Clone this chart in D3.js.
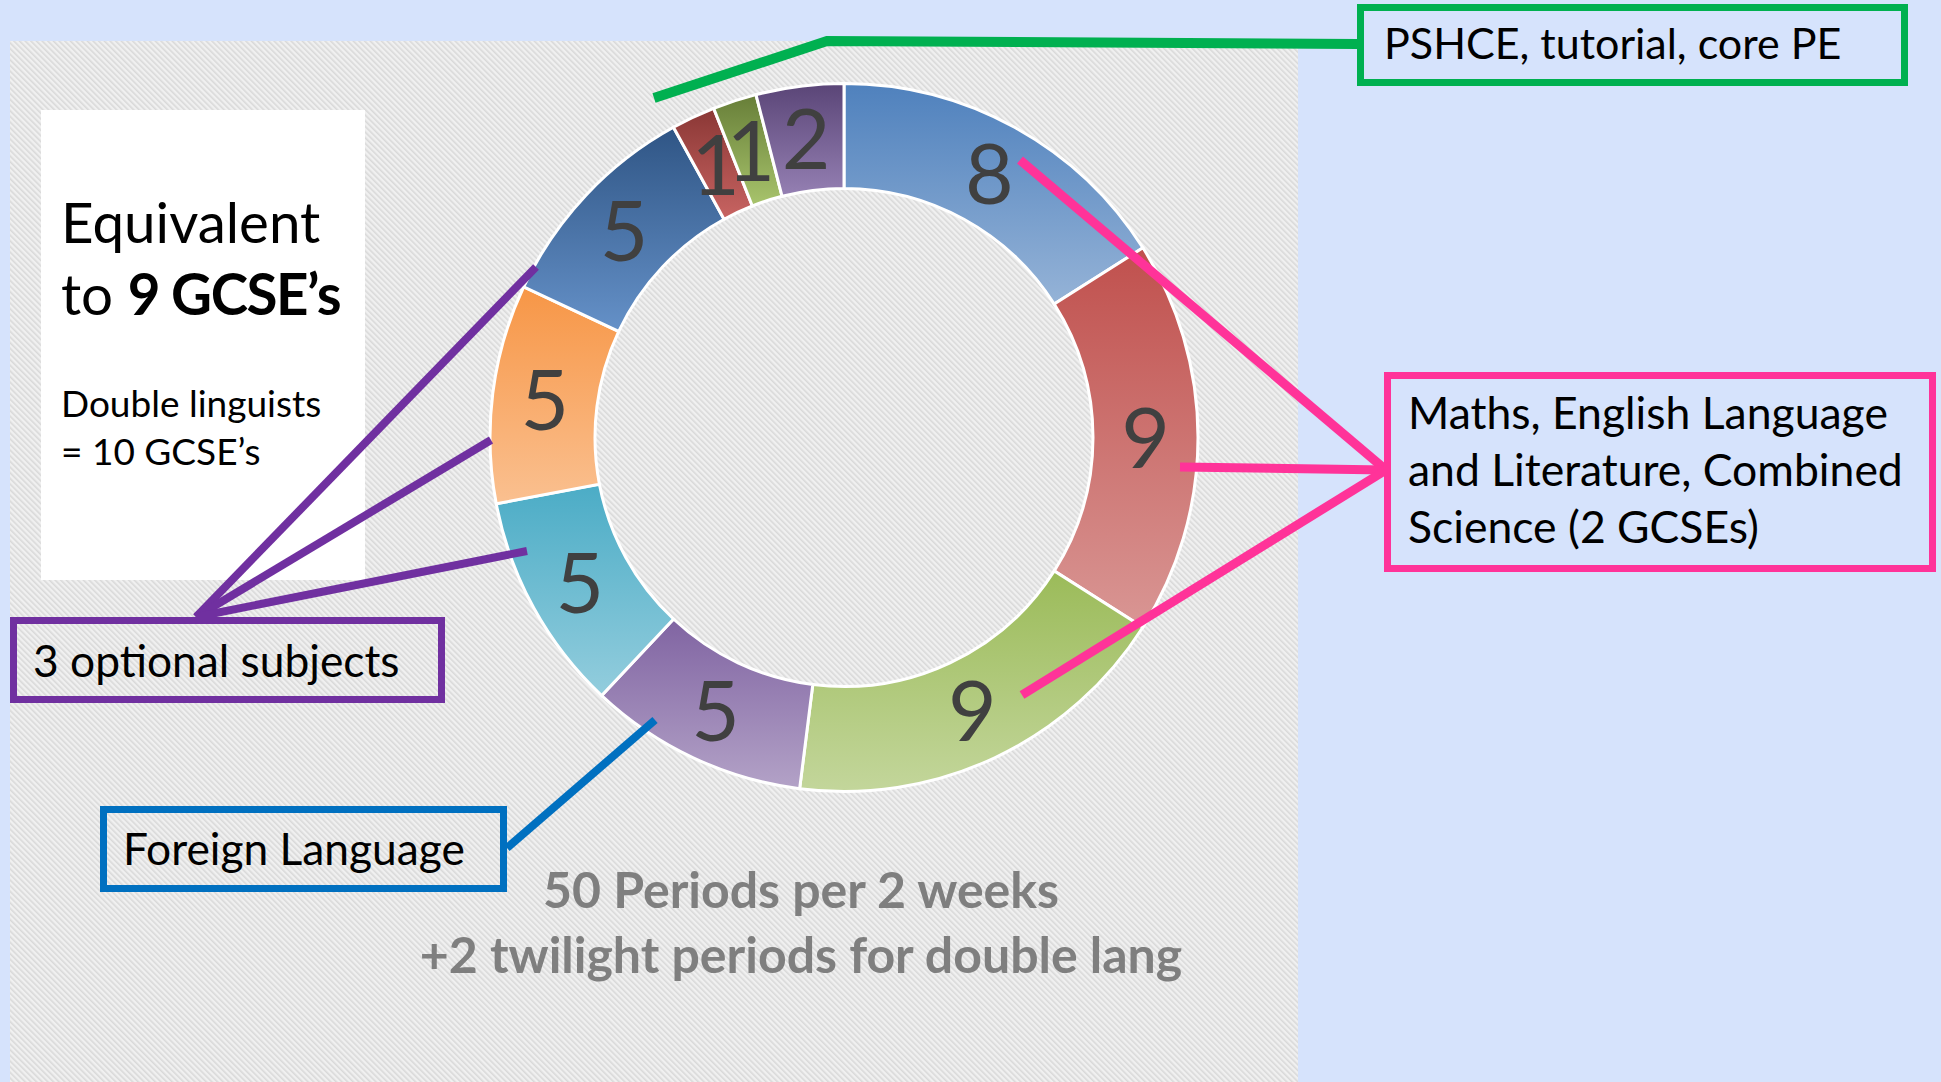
<!DOCTYPE html>
<html>
<head>
<meta charset="utf-8">
<style>
  body { margin: 0; background: #d6e3fc; }
  svg { display: block; }
  text { font-family: Lato, "Open Sans", sans-serif; }
</style>
</head>
<body>
<svg width="1941" height="1082"></svg>
<script src="https://d3js.org/d3.v7.min.js"></script>
<script>
// periods per fortnight, clockwise from 12 o'clock
var periods = [8, 9, 9, 5, 5, 5, 5, 1, 1, 2];
var topColors    = ["#4f81bd", "#c0504d", "#9bbb59", "#8064a2", "#4bacc6", "#f79646", "#2f5585", "#8a3735", "#677e38", "#5a4577"];
var bottomColors = ["#95b3d7", "#d99694", "#c3d69b", "#b3a2c7", "#93cddd", "#fac090", "#6591c8", "#c86462", "#a8c46c", "#9580b3"];

var titleLines = ["Equivalent", "to ", "9 GCSE\u2019s"];
var noteLines = ["Double linguists", "= 10 GCSE\u2019s"];
var footerLines = ["50 Periods per 2 weeks", "+2 twilight periods for double lang"];
var coreText = ["Maths, English Language", "and Literature, Combined", "Science (2 GCSEs)"];

var svg = d3.select("svg"),
    width = +svg.attr("width"),
    height = +svg.attr("height");

var defs = svg.append("defs");

// diagonal hatch of the plot panel
var hatch = defs.append("pattern")
    .attr("id", "hatch")
    .attr("patternUnits", "userSpaceOnUse")
    .attr("width", 4).attr("height", 4)
    .attr("patternTransform", "rotate(-45)");
hatch.append("rect").attr("width", 4).attr("height", 4).attr("fill", "#f0f0f0");
hatch.append("rect").attr("width", 1.6).attr("height", 4).attr("fill", "#d9d9d9");

svg.append("rect")
    .attr("x", 10).attr("y", 41)
    .attr("width", 1288).attr("height", height - 41)
    .attr("fill", "url(#hatch)");

// white text panel
svg.append("rect")
    .attr("x", 41).attr("y", 110)
    .attr("width", 324).attr("height", 470)
    .attr("fill", "#ffffff");

var t1 = svg.append("text").attr("x", 61).attr("y", 243).attr("font-size", 56.5).attr("fill", "#000");
t1.text(titleLines[0]);
var t2 = svg.append("text").attr("x", 61).attr("y", 315).attr("font-size", 56.5).attr("fill", "#000");
t2.append("tspan").text(titleLines[1]);
t2.append("tspan").attr("font-weight", "bold").attr("letter-spacing", -1.5).text(titleLines[2]);

svg.selectAll(".note")
  .data(noteLines)
  .enter().append("text")
    .attr("class", "note")
    .attr("x", 61)
    .attr("y", function(d, i) { return 417 + i * 48; })
    .attr("font-size", 37)
    .attr("fill", "#000")
    .text(function(d) { return d; });

// gradients, one per slice
var grads = defs.selectAll("linearGradient")
  .data(periods)
  .enter().append("linearGradient")
    .attr("id", function(d, i) { return "g" + i; })
    .attr("x1", 0).attr("y1", 0).attr("x2", 0).attr("y2", 1);
grads.append("stop").attr("offset", 0).attr("stop-color", function(d, i) { return topColors[i]; });
grads.append("stop").attr("offset", 1).attr("stop-color", function(d, i) { return bottomColors[i]; });

var cx = 844, cy = 437.5;
var pie = d3.pie().sort(null).value(function(d) { return d; });
var arc = d3.arc().innerRadius(249).outerRadius(354);

var donut = svg.append("g").attr("transform", "translate(" + cx + "," + cy + ")");

donut.selectAll("path")
  .data(pie(periods))
  .enter().append("path")
    .attr("d", arc)
    .attr("fill", function(d, i) { return "url(#g" + i + ")"; })
    .attr("stroke", "#fff")
    .attr("stroke-width", 3);

// callout lines
var lineStyle = function(sel, color, w) {
  sel.attr("fill", "none").attr("stroke", color).attr("stroke-width", w);
};
var line = d3.line();

svg.append("path").attr("d", line([[1358, 44], [827, 41], [654, 98]])).call(lineStyle, "#00b050", 10);

var pinkApex = [1386, 470];
[[1020, 160], [1180, 467], [1022, 695]].forEach(function(p) {
  svg.append("path").attr("d", line([pinkApex, p])).call(lineStyle, "#ff3399", 9);
});

var purpleApex = [196, 617];
[[536, 267], [491, 440], [527, 551]].forEach(function(p) {
  svg.append("path").attr("d", line([purpleApex, p])).call(lineStyle, "#7030a0", 8);
});

svg.append("path").attr("d", line([[507, 848], [655, 720]])).call(lineStyle, "#0070c0", 8);

// value labels
donut.selectAll(".val")
  .data(pie(periods))
  .enter().append("text")
    .attr("class", "val")
    .attr("transform", function(d) { return "translate(" + arc.centroid(d) + ")"; })
    .attr("text-anchor", "middle")
    .attr("dy", "0.36em")
    .attr("font-size", 84)
    .attr("fill", "#404040")
    .text(function(d) { return d.data; });

// callout boxes
svg.append("rect").attr("x", 1360.5).attr("y", 7.5).attr("width", 544).attr("height", 75).call(lineStyle, "#00b050", 7);
svg.append("text").attr("x", 1384).attr("y", 59).attr("font-size", 43).text("PSHCE, tutorial, core PE");

svg.append("rect").attr("x", 1387.5).attr("y", 375.5).attr("width", 545).attr("height", 193).call(lineStyle, "#ff3399", 7);
svg.selectAll(".core")
  .data(coreText)
  .enter().append("text")
    .attr("class", "core")
    .attr("x", 1408)
    .attr("y", function(d, i) { return 429 + i * 57; })
    .attr("font-size", 44.5)
    .text(function(d) { return d; });

svg.append("rect").attr("x", 13.5).attr("y", 620.5).attr("width", 428).attr("height", 79).call(lineStyle, "#7030a0", 7);
svg.append("text").attr("x", 33).attr("y", 677).attr("font-size", 44.3).text("3 optional subjects");

svg.append("rect").attr("x", 103.5).attr("y", 809.5).attr("width", 400).attr("height", 79).call(lineStyle, "#0070c0", 7);
svg.append("text").attr("x", 123).attr("y", 865).attr("font-size", 44.3).text("Foreign Language");

svg.selectAll(".foot")
  .data(footerLines)
  .enter().append("text")
    .attr("class", "foot")
    .attr("x", 801)
    .attr("y", function(d, i) { return 908 + i * 65; })
    .attr("text-anchor", "middle")
    .attr("font-size", 50)
    .attr("font-weight", "bold")
    .attr("fill", "#7f7f7f")
    .text(function(d) { return d; });
</script>
</body>
</html>
